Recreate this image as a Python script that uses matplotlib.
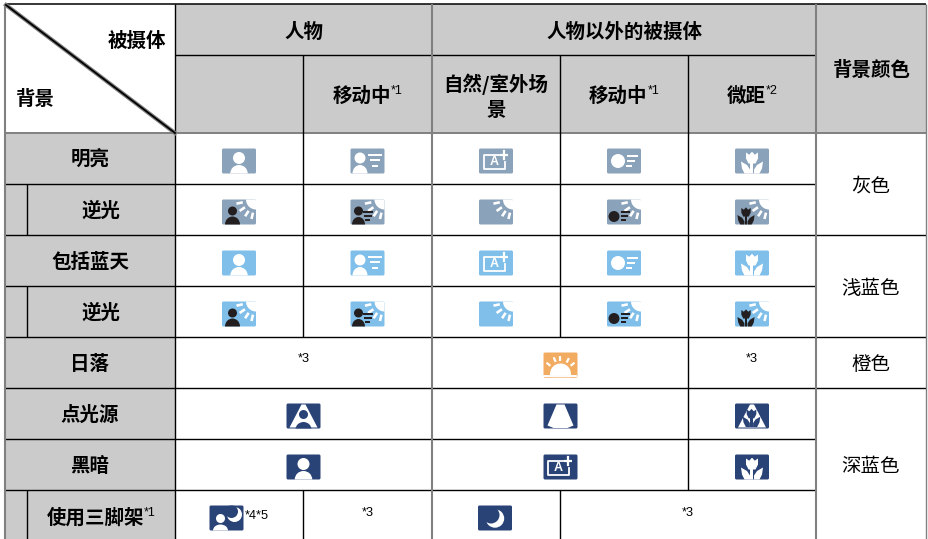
import numpy as np
import matplotlib
matplotlib.use('Agg')
import matplotlib.pyplot as plt
from matplotlib.patches import Rectangle, FancyBboxPatch, Circle, Ellipse, Polygon

CJK = ['Noto Sans CJK SC', 'DejaVu Sans']
LATIN = 'Liberation Sans'

HEADER_GRAY = '#cbcbcb'
LINE_GRAY = '#808080'
DARK = '#231f20'
ICON_GRAY = '#8aa2ba'
ICON_SKY = '#7fbfea'
ICON_ORANGE = '#f2ac62'
ICON_NAVY = '#2a4377'

# table contents
top_headers = ['人物', '人物以外的被摄体', '背景颜色']
sub_headers = ['', '移动中', '自然/室外场\n景', '移动中', '微距']
sub_marks = ['', '*1', '', '*1', '*2']
row_labels = ['明亮', '逆光', '包括蓝天', '逆光', '日落', '点光源', '黑暗', '使用三脚架']
row_indented = [False, True, False, True, False, False, False, True]
row_marks = ['', '', '', '', '', '', '', '*1']
bg_names = ['灰色', '浅蓝色', '橙色', '深蓝色']
bright_icons = ['person', 'person_move', 'auto', 'move', 'flower']
back_icons = ['person_back', 'person_move_back', 'back', 'move_back', 'flower_back']

# layout in pixels of the picture
col_x = [5, 175, 303, 432, 560, 688, 816, 926]
row_y = [4, 55, 133, 184, 235, 286, 337, 388, 439, 490, 541]
indent_x = 27.5
ICON_W = 34
ICON_H = 25


def icon_shapes(ax, x0, y0, color):
    base = FancyBboxPatch((x0 + 1, y0 + 1), ICON_W - 2, ICON_H - 2,
                          boxstyle='round,pad=1,rounding_size=1.5',
                          fc=color, ec='none', zorder=3)
    ax.add_patch(base)
    return base


def add_clipped(ax, patch, base):
    patch.set_zorder(4)
    ax.add_patch(patch)
    patch.set_clip_path(base.get_path(), base.get_transform())


def bar(ax, x0, y0, u1, u2, v, color, lw=2.0):
    ax.plot([x0 + u1, x0 + u2], [y0 + v, y0 + v], color=color, lw=lw * 0.72,
            solid_capstyle='butt', zorder=5)


def person(ax, base, x0, y0, cu, head_v, head_r, sh_w, sh_top, color):
    add_clipped(ax, Circle((x0 + cu, y0 + head_v), head_r, fc=color, ec='none'), base)
    add_clipped(ax, Ellipse((x0 + cu, y0 + ICON_H), sh_w, 2 * (ICON_H - sh_top),
                            fc=color, ec='none'), base)


def flower(ax, base, x0, y0, cu, top, s, color):
    head = [(-6, 0), (-2.8, 2.2), (0, -0.8), (2.8, 2.2), (6, 0), (6, 6), (3.5, 11),
            (-3.5, 11), (-6, 6)]
    add_clipped(ax, Polygon([(x0 + cu + a * s, y0 + top + b * s) for a, b in head],
                            fc=color, ec='none'), base)
    add_clipped(ax, Rectangle((x0 + cu - 1.5 * s, y0 + top + 10 * s), 3 * s, 12 * s,
                              fc=color, ec='none'), base)
    leaf = [(11, 9), (5, 12.5), (2, 17), (2, 22), (7, 22), (10, 16)]
    for side in (-1, 1):
        pts = [(x0 + cu + side * a * s, y0 + top + b * s) for a, b in leaf]
        add_clipped(ax, Polygon(pts, fc=color, ec='none'), base)


def rays(ax, x0, y0, cu, cv, angles, r1, r2, lw=2.6):
    for a in np.radians(angles):
        ax.plot([x0 + cu + r1 * np.cos(a), x0 + cu + r2 * np.cos(a)],
                [y0 + cv + r1 * np.sin(a), y0 + cv + r2 * np.sin(a)],
                color='white', lw=lw * 0.72, solid_capstyle='butt', zorder=5)


def draw_icon(ax, name, cx, cy, color):
    x0 = cx - ICON_W / 2
    y0 = cy - ICON_H / 2
    base = icon_shapes(ax, x0, y0, color)

    if name.endswith('_back') or name == 'back':
        add_clipped(ax, Circle((x0 + ICON_W, y0), 10, fc='white', ec='none'), base)
        rays(ax, x0, y0, ICON_W, 0, [168, 145, 123, 103], 13.5, 20)

    if name == 'person':
        person(ax, base, x0, y0, 17, 9.5, 6, 17.5, 16.5, 'white')
    elif name == 'person_move':
        person(ax, base, x0, y0, 9.5, 9.5, 5.5, 15, 16.5, 'white')
        bar(ax, x0, y0, 18, 32, 6.5, 'white')
        bar(ax, x0, y0, 20, 30, 11.5, 'white')
        bar(ax, x0, y0, 22, 28, 17, 'white')
    elif name == 'auto':
        ax.plot([x0 + 21, x0 + 5, x0 + 5, x0 + 26, x0 + 26],
                [y0 + 6.5, y0 + 6.5, y0 + 20.5, y0 + 20.5, y0 + 13],
                color='white', lw=1.3, zorder=5)
        ax.text(x0 + 15, y0 + 13.5, 'A', color='white', fontsize=9, weight='bold',
                family=LATIN, ha='center', va='center', zorder=5)
        bar(ax, x0, y0, 21, 29, 6.5, 'white', 2.2)
        ax.plot([x0 + 25, x0 + 25], [y0 + 2.5, y0 + 10.5], color='white', lw=1.6, zorder=5)
    elif name == 'move':
        add_clipped(ax, Circle((x0 + 11, y0 + 12.5), 7, fc='white', ec='none'), base)
        bar(ax, x0, y0, 20, 31, 7, 'white')
        bar(ax, x0, y0, 20, 28, 12, 'white')
        bar(ax, x0, y0, 19, 25, 17, 'white')
    elif name == 'flower':
        flower(ax, base, x0, y0, 17, 4, 1.0, 'white')
    elif name == 'person_back':
        person(ax, base, x0, y0, 10.5, 11.5, 4.5, 15, 17, DARK)
    elif name == 'person_move_back':
        person(ax, base, x0, y0, 8, 11.5, 4.5, 13, 17.5, DARK)
        bar(ax, x0, y0, 13, 23, 12, DARK)
        bar(ax, x0, y0, 14, 22, 16, DARK)
        bar(ax, x0, y0, 15, 20, 20, DARK)
    elif name == 'move_back':
        add_clipped(ax, Circle((x0 + 7, y0 + 17), 5.5, fc=DARK, ec='none'), base)
        bar(ax, x0, y0, 14, 23, 12.5, DARK)
        bar(ax, x0, y0, 14, 21, 16.5, DARK)
        bar(ax, x0, y0, 14, 19, 20.5, DARK)
    elif name == 'flower_back':
        flower(ax, base, x0, y0, 11, 8.5, 0.78, DARK)
    elif name == 'sunset':
        add_clipped(ax, Circle((x0 + 17, y0 + 21.5), 10.5, fc='white', ec='none'), base)
        add_clipped(ax, Rectangle((x0, y0 + 22), ICON_W, 4, fc=color, ec='none'), base)
        ax.plot([x0 + 1, x0 + 33], [y0 + 23, y0 + 23], color='white', lw=1.4, zorder=6)
        rays(ax, x0, y0, 17, 21.5, [-141, -112, -90, -62, -39], 13, 18, lw=2.2)
    elif name == 'spot':
        spot = Polygon([(x0 + 13, y0 + 1), (x0 + 21, y0 + 1), (x0 + 30, y0 + 22),
                        (x0 + 24, y0 + 24.5), (x0 + 10, y0 + 24.5), (x0 + 4, y0 + 22)],
                       fc='white', ec='none')
        add_clipped(ax, spot, base)
    elif name in ('spot_person', 'spot_flower'):
        spot = Polygon([(x0 + 15, y0 + 1), (x0 + 19, y0 + 1), (x0 + 31, y0 + 24),
                        (x0 + 3, y0 + 24)], fc='white', ec='none')
        add_clipped(ax, spot, base)
        if name == 'spot_person':
            add_clipped(ax, Circle((x0 + 17, y0 + 11), 4.5, fc=color, ec='none'), base)
            add_clipped(ax, Ellipse((x0 + 17, y0 + 26), 16, 15, fc=color, ec='none'), base)
        else:
            flower(ax, base, x0, y0, 16.5, 6, 0.8, color)
    elif name == 'moon':
        add_clipped(ax, Circle((x0 + 17, y0 + 13), 9.2, fc='white', ec='none'), base)
        add_clipped(ax, Circle((x0 + 13, y0 + 9.5), 8.5, fc=color, ec='none'), base)
    elif name == 'person_moon':
        person(ax, base, x0, y0, 11, 13, 4.5, 15, 19, 'white')
        add_clipped(ax, Circle((x0 + 25, y0 + 9), 7.5, fc='white', ec='none'), base)
        add_clipped(ax, Circle((x0 + 22, y0 + 6), 6.5, fc=color, ec='none'), base)


def label(ax, x, y, text, mark='', size=14, bold=True):
    weight = 'bold' if bold else 'normal'
    y = y + 1.5
    t = ax.text(x, y, text, family=CJK, fontsize=size, weight=weight, color='black',
                ha='center', va='center', linespacing=1.4, zorder=6)
    if mark:
        fig = ax.figure
        w = t.get_window_extent(fig.canvas.get_renderer()).width
        m = ax.text(x, y, mark, family=LATIN, fontsize=9, ha='left', va='center', zorder=6)
        mw = m.get_window_extent(fig.canvas.get_renderer()).width
        t.set_x(x - mw / 2)
        m.set_position((x - mw / 2 + w / 2, y - 5))


def note(ax, x, y, text):
    ax.text(x, y, text, family=LATIN, fontsize=9.2, ha='center', va='center', zorder=6)


def hline(ax, x1, x2, y, color='black', lw=1.0):
    ax.plot([x1, x2], [y, y], color=color, lw=lw, solid_capstyle='butt', zorder=2.5)


def vline(ax, x, y1, y2, color='black', lw=1.0):
    ax.plot([x, x], [y1, y2], color=color, lw=lw, solid_capstyle='butt', zorder=2.5)


def main():
    fig = plt.figure(figsize=(9.29, 5.39), dpi=100)
    ax = fig.add_axes([0, 0, 1, 1])
    ax.set_xlim(0, 929)
    ax.set_ylim(539, 0)
    ax.axis('off')
    fig.canvas.draw()

    # gray fills
    ax.add_patch(Rectangle((col_x[1], row_y[0]), col_x[7] - col_x[1], row_y[2] - row_y[0],
                           fc=HEADER_GRAY, ec='none', zorder=1))
    ax.add_patch(Rectangle((col_x[0], row_y[2]), col_x[1] - col_x[0], row_y[10] - row_y[2],
                           fc=HEADER_GRAY, ec='none', zorder=1))

    # horizontal rules
    hline(ax, col_x[0], col_x[7], row_y[0], lw=1.1)
    hline(ax, col_x[1], col_x[6], row_y[1])
    hline(ax, col_x[0], col_x[7], row_y[2], color=LINE_GRAY, lw=1.4)
    for i in range(3, 10):
        hline(ax, col_x[0], col_x[6], row_y[i])
    for i in (4, 6, 7):
        hline(ax, col_x[6], col_x[7], row_y[i])

    # vertical rules
    vline(ax, col_x[0], row_y[0], 539, color=LINE_GRAY, lw=1.5)
    vline(ax, col_x[1], row_y[0], 539, lw=1.0)
    vline(ax, col_x[3], row_y[0], 539, color=LINE_GRAY, lw=1.5)
    vline(ax, col_x[6], row_y[0], 539, color=LINE_GRAY, lw=1.5)
    vline(ax, col_x[7], row_y[0], 539, color=LINE_GRAY, lw=1.0)
    vline(ax, col_x[2], row_y[1], row_y[6])
    vline(ax, col_x[2], row_y[9], 539)
    vline(ax, col_x[4], row_y[1], row_y[6])
    vline(ax, col_x[4], row_y[9], 539)
    vline(ax, col_x[5], row_y[1], row_y[9])
    for i, ind in enumerate(row_indented):
        if ind:
            vline(ax, indent_x, row_y[i + 2], min(row_y[i + 3], 539))

    # corner cell
    ax.plot([col_x[0] + 1, col_x[1]], [row_y[0] + 1, row_y[2]], color=LINE_GRAY, lw=3, zorder=3)
    ax.plot([col_x[0] + 1, col_x[1]], [row_y[0] + 1, row_y[2]], color='black', lw=1.3, zorder=3)
    label(ax, 137, 40, '被摄体')
    label(ax, 35, 98, '背景')

    # column headers
    label(ax, (col_x[1] + col_x[3]) / 2, 31, top_headers[0])
    label(ax, (col_x[3] + col_x[6]) / 2, 31, top_headers[1])
    label(ax, (col_x[6] + col_x[7]) / 2, 69, top_headers[2])
    for i in range(5):
        cx = (col_x[i + 1] + col_x[i + 2]) / 2
        label(ax, cx, 95, sub_headers[i], sub_marks[i])

    # row headers
    for i, text in enumerate(row_labels):
        cy = (row_y[i + 2] + row_y[i + 3]) / 2
        if i == 7:
            cy = 516
        left = indent_x if row_indented[i] else col_x[0]
        label(ax, (left + col_x[1]) / 2, cy, text, row_marks[i])

    # background colour column
    label(ax, 871, 184.5, bg_names[0], bold=False)
    label(ax, 871, 286.5, bg_names[1], bold=False)
    label(ax, 871, 363, bg_names[2], bold=False)
    label(ax, 871, 465, bg_names[3], bold=False)

    # icon rows
    centers = [(col_x[i] + col_x[i + 1]) / 2 for i in range(1, 6)]
    for c, bright, back in zip(centers, bright_icons, back_icons):
        draw_icon(ax, bright, c, 161, ICON_GRAY)
        draw_icon(ax, back, c, 212, ICON_GRAY)
        draw_icon(ax, bright, c, 263, ICON_SKY)
        draw_icon(ax, back, c, 314, ICON_SKY)

    # sunset row
    note(ax, 304, 359.5, '*3')
    draw_icon(ax, 'sunset', 560.5, 365, ICON_ORANGE)
    note(ax, 752, 359.5, '*3')

    # spot and dark rows
    draw_icon(ax, 'spot_person', 303.5, 416, ICON_NAVY)
    draw_icon(ax, 'spot', 560.5, 416, ICON_NAVY)
    draw_icon(ax, 'spot_flower', 752, 416, ICON_NAVY)
    draw_icon(ax, 'person', 303.5, 467, ICON_NAVY)
    draw_icon(ax, 'auto', 560.5, 467, ICON_NAVY)
    draw_icon(ax, 'flower', 752, 467, ICON_NAVY)

    # tripod row
    draw_icon(ax, 'person_moon', 226.5, 518, ICON_NAVY)
    ax.text(244.5, 516, '*4*5', family=LATIN, fontsize=9.2, ha='left', va='center', zorder=6)
    note(ax, 368, 512.5, '*3')
    draw_icon(ax, 'moon', 495, 518, ICON_NAVY)
    note(ax, 688, 512.5, '*3')

    fig.savefig('out.png', dpi=100)


if __name__ == '__main__':
    main()
